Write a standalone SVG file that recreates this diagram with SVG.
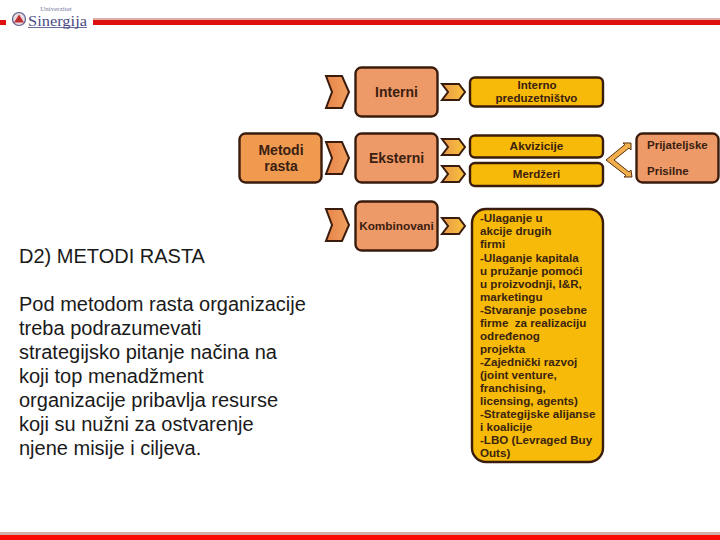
<svg xmlns="http://www.w3.org/2000/svg" width="720" height="540" viewBox="0 0 720 540">
<defs>
<linearGradient id="chevA" x1="0" y1="0" x2="1" y2="0"><stop offset="0" stop-color="#e8844a"/><stop offset="1" stop-color="#f0a060"/></linearGradient>
<linearGradient id="chevB" x1="0" y1="0" x2="1" y2="0"><stop offset="0" stop-color="#e89a4c"/><stop offset="1" stop-color="#fbc23a"/></linearGradient>
</defs>
<style>
.box{stroke:#3a1c0c;stroke-width:2.4}
.salmon{fill:#ee9a68}
.orange{fill:#f09a50}
.yellow{fill:#f7ba08}
.chev{stroke:#3a1c0c;stroke-width:2;stroke-linejoin:miter}
.big{fill:url(#chevA)}
.small{fill:url(#chevB)}
text{font-family:"Liberation Sans",Arial,sans-serif;fill:#3a2010}
.b{font-weight:bold;text-anchor:middle}
.t{font-size:20px;fill:#1a1a1a}
.y{font-weight:bold;font-size:11.600px;fill:#3a2410}
</style>
<rect width="720" height="540" fill="#fff"/>
<g id="header">
<rect x="0" y="20" width="6" height="5" fill="#e01010"/>
<rect x="93" y="18" width="627" height="2" fill="#dcb0a8"/>
<rect x="93" y="20" width="627" height="5" fill="#e01010"/>
<circle cx="19" cy="19" r="6.500" fill="#e8dce0" stroke="#5a5a8c" stroke-width="1.200"/>
<path d="M19 14.500 L24 22.500 H14 Z" fill="#c03030"/>
<rect x="28" y="27" width="59" height="1" fill="#6a6a9c"/>
<text x="56" y="11" font-size="7" text-anchor="middle" style="font-family:'Liberation Serif',serif;fill:#7a7a9c">Univerzitet</text>
<text x="28" y="26" font-size="15" style="font-family:'Liberation Serif',serif;fill:#4a4a84" textLength="59" lengthAdjust="spacingAndGlyphs">Sinergija</text>
</g>
<g id="footer">
<rect x="0" y="532" width="720" height="3" fill="#d0b0a8"/>
<rect x="0" y="535" width="720" height="5" fill="#fb0a04"/>
</g>
<g id="intro">
<text class="t" x="19" y="262.500">D2) METODI RASTA</text>
<text class="t" x="19" y="310.500">Pod metodom rasta organizacije</text>
<text class="t" x="19" y="334.500">treba podrazumevati</text>
<text class="t" x="19" y="358.500">strategijsko pitanje načina na</text>
<text class="t" x="19" y="382.500">koji top menadžment</text>
<text class="t" x="19" y="406.500">organizacije pribavlja resurse</text>
<text class="t" x="19" y="430.500">koji su nužni za ostvarenje</text>
<text class="t" x="19" y="454.500">njene misije i ciljeva.</text>
</g>
<g id="connectors">
<polygon class="chev big" points="326,76 342,76 349,92 342,108 326,108 332,92"/>
<polygon class="chev big" points="326,142 342,142 349,158 342,174 326,174 332,158"/>
<polygon class="chev big" points="326,209 342,209 349,225 342,241 326,241 332,225"/>
<polygon class="chev small" points="442,84 459,84 465,92 459,100 442,100 448,92"/>
<polygon class="chev small" points="442,139 459,139 465,147 459,155 442,155 448,147"/>
<polygon class="chev small" points="442,166 459,166 465,174 459,182 442,182 448,174"/>
<polygon class="chev small" points="442,218 459,218 465,226 459,234 442,234 448,226"/>
<polygon points="606,160 625,144.500 623,143 631,143 631,150 629,148 614,160 629,172 631,170 632,177 624,177 626,175.500" fill="#f2b04c" stroke="#5a3010" stroke-width="1"/>
</g>
<g id="metodi"><rect class="box orange" x="239.500" y="133.500" width="82" height="49" rx="6"/><text class="b" x="281" y="155" font-size="14">Metodi</text><text class="b" x="281" y="171" font-size="14">rasta</text></g>
<g id="interni"><rect class="box salmon" x="355.500" y="67.500" width="82" height="49" rx="6"/><text class="b" x="396.500" y="97" font-size="14">Interni</text></g>
<g id="eksterni"><rect class="box salmon" x="355.500" y="133.500" width="82" height="49" rx="6"/><text class="b" x="396.500" y="163" font-size="14">Eksterni</text></g>
<g id="kombinovani"><rect class="box salmon" x="355.500" y="201.500" width="82" height="49" rx="6"/><text class="b" x="396.500" y="230" font-size="11.800">Kombinovani</text></g>
<g id="interno"><rect class="box yellow" x="470" y="77.500" width="133" height="29" rx="5"/><text class="b" x="537" y="89" font-size="11.500">Interno</text><text class="b" x="536.500" y="102" font-size="11.500">preduzetništvo</text></g>
<g id="akvizicije"><rect class="box yellow" x="470" y="135.500" width="133" height="22" rx="5"/><text class="b" x="536.500" y="150" font-size="11.800">Akvizicije</text></g>
<g id="merdzeri"><rect class="box yellow" x="470" y="163" width="133" height="23" rx="5"/><text class="b" x="536.500" y="178" font-size="11.500">Merdžeri</text></g>
<g id="prijateljske"><rect class="box salmon" x="636.500" y="133.500" width="82" height="49" rx="6"/><text x="647" y="149" font-size="11.500" font-weight="bold">Prijateljske</text><text x="647" y="175" font-size="11.500" font-weight="bold">Prisilne</text></g>
<g id="detalji"><rect class="box yellow" x="472" y="209" width="131" height="253" rx="14"/>
<text class="y" x="480" y="222">-Ulaganje u</text>
<text class="y" x="480" y="235">akcije drugih</text>
<text class="y" x="480" y="248">firmi</text>
<text class="y" x="480" y="262">-Ulaganje kapitala</text>
<text class="y" x="480" y="275">u pružanje pomoći</text>
<text class="y" x="480" y="288">u proizvodnji, I&amp;R,</text>
<text class="y" x="480" y="301">marketingu</text>
<text class="y" x="480" y="314">-Stvaranje posebne</text>
<text class="y" x="480" y="327" xml:space="preserve">firme  za realizaciju</text>
<text class="y" x="480" y="340">određenog</text>
<text class="y" x="480" y="353">projekta</text>
<text class="y" x="480" y="366">-Zajednički razvoj</text>
<text class="y" x="480" y="379">(joint venture,</text>
<text class="y" x="480" y="392">franchising,</text>
<text class="y" x="480" y="405">licensing, agents)</text>
<text class="y" x="480" y="418">-Strategijske alijanse</text>
<text class="y" x="480" y="431">i koalicije</text>
<text class="y" x="480" y="444">-LBO (Levraged Buy</text>
<text class="y" x="480" y="457">Outs)</text>
</g>
</svg>
